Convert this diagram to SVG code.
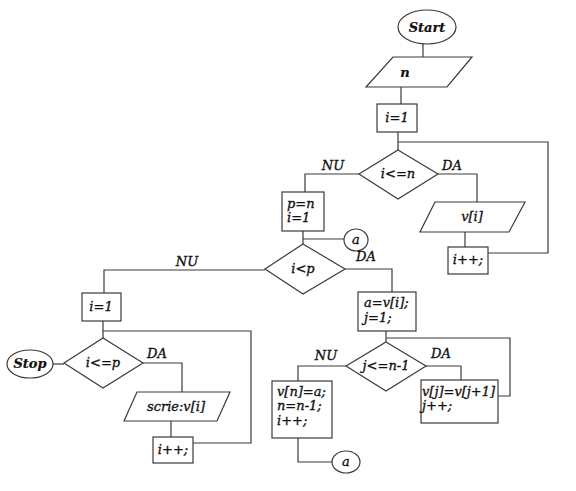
<svg xmlns="http://www.w3.org/2000/svg" width="576" height="491" viewBox="0 0 576 491">
<style>
.s{fill:#fff;stroke:#3a3a3a;stroke-width:1.2}
.c{fill:none;stroke:#3a3a3a;stroke-width:1.2}
text{font-family:"DejaVu Serif","Liberation Serif",serif;font-style:italic;font-size:13px;fill:#111;stroke:#111;stroke-width:0.35}
.m{text-anchor:middle}
.b{font-weight:bold;stroke-width:0.2}
</style>
<rect width="576" height="491" fill="#fff"/>
<g id="connectors" class="c">
<path d="M423,44V57"/>
<path d="M401,87V104"/>
<path d="M398,132V150"/>
<path d="M398,142H548V253H488"/>
<path d="M359,174H305V192"/>
<path d="M438,174H477V202"/>
<path d="M465,232V247"/>
<path d="M303,231V244"/>
<path d="M303,239H344"/>
<path d="M345,269H392V292"/>
<path d="M265,270H104V293"/>
<path d="M103,321V338"/>
<path d="M103,331H251V443H193"/>
<path d="M53,364H64"/>
<path d="M143,363H182V392"/>
<path d="M171,421V437"/>
<path d="M386,331V342"/>
<path d="M386,338H510V396H498"/>
<path d="M346,366H298V381"/>
<path d="M426,366H461V380"/>
<path d="M298,438V462H332"/>
</g>
<g id="start"><ellipse class="s" cx="427" cy="27" rx="29" ry="17"/><text class="m b" x="427" y="32">Start</text></g>
<g id="read-n"><polygon class="s" points="393,57 472,57 447,87 366,87"/><text class="m b" x="405" y="77">n</text></g>
<g id="init-i"><rect class="s" x="377" y="104" width="40" height="28"/><text class="m" x="397" y="122">i=1</text></g>
<g id="cond-i-n"><polygon class="s" points="398,150 438,174 398,199 359,174"/><text class="m" x="398" y="178">i&lt;=n</text></g>
<text class="m" x="333" y="170">NU</text>
<text class="m" x="452" y="170">DA</text>
<g id="read-v"><polygon class="s" points="435,202 525,202 509,232 420,232"/><text class="m" x="472" y="221">v[i]</text></g>
<g id="inc-i1"><rect class="s" x="448" y="247" width="40" height="27"/><text class="m" x="468" y="264">i++;</text></g>
<g id="init-p"><rect class="s" x="282" y="192" width="42" height="39"/><text x="287" y="208">p=n</text><text x="287" y="222">i=1</text></g>
<g id="conn-a1"><ellipse class="s" cx="356" cy="240" rx="12" ry="11"/><text class="m" x="356" y="244">a</text></g>
<g id="cond-i-p"><polygon class="s" points="303,244 345,269 303,294 265,269"/><text class="m" x="303" y="273">i&lt;p</text></g>
<text class="m" x="366" y="261">DA</text>
<text class="m" x="187" y="266">NU</text>
<g id="assign-a"><rect class="s" x="358" y="292" width="58" height="39"/><text x="364" y="307">a=v[i];</text><text x="364" y="322">j=1;</text></g>
<g id="cond-j"><polygon class="s" points="386,342 426,366 386,391 346,366"/><text class="m" x="386" y="370">j&lt;=n-1</text></g>
<text class="m" x="326" y="360">NU</text>
<text class="m" x="441" y="358">DA</text>
<g id="shift"><rect class="s" x="421" y="380" width="77" height="43"/><text x="422" y="396">v[j]=v[j+1]</text><text x="422" y="410">j++;</text></g>
<g id="update"><rect class="s" x="272" y="381" width="60" height="57"/><text x="277" y="396">v[n]=a;</text><text x="277" y="410">n=n-1;</text><text x="277" y="425">i++;</text></g>
<g id="conn-a2"><ellipse class="s" cx="346" cy="462" rx="14" ry="11"/><text class="m" x="346" y="466">a</text></g>
<g id="init-i2"><rect class="s" x="82" y="293" width="39" height="28"/><text class="m" x="101" y="311">i=1</text></g>
<g id="cond-i-p2"><polygon class="s" points="103,338 143,363 103,388 64,363"/><text class="m" x="103" y="367">i&lt;=p</text></g>
<text class="m" x="157" y="358">DA</text>
<g id="stop"><ellipse class="s" cx="30" cy="364" rx="23" ry="14"/><text class="m b" x="30" y="368">Stop</text></g>
<g id="write-v"><polygon class="s" points="137,392 230,392 217,421 124,421"/><text class="m" x="176" y="411">scrie:v[i]</text></g>
<g id="inc-i2"><rect class="s" x="153" y="437" width="40" height="26"/><text class="m" x="173" y="454">i++;</text></g>
</svg>
